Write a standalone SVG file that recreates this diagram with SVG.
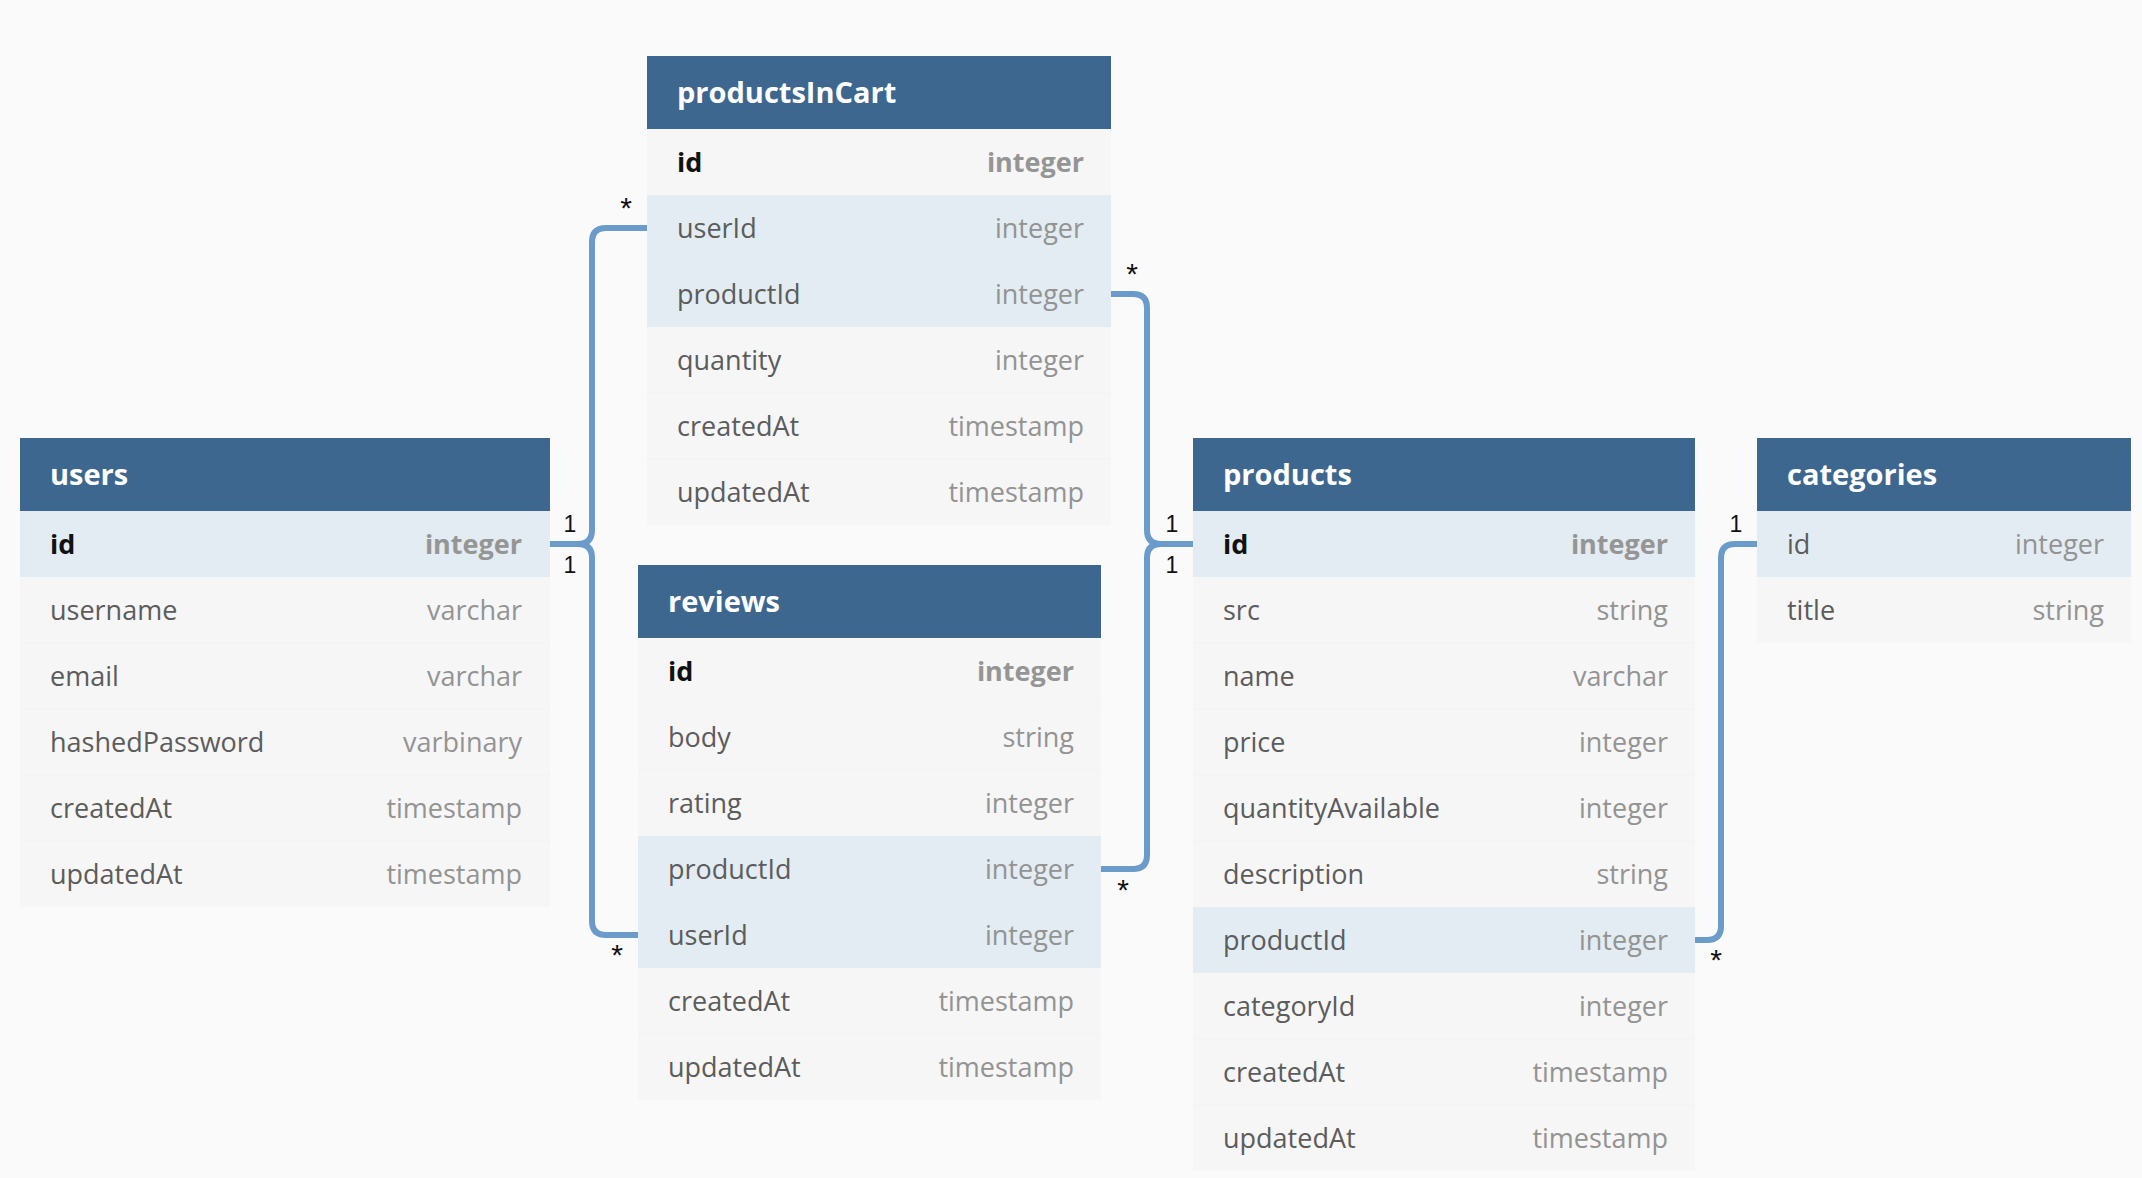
<svg xmlns="http://www.w3.org/2000/svg" width="2142" height="1178" viewBox="0 0 2142 1178">
<style>
.hdr{fill:#3E678F}
.row{fill:#F6F6F6}
.hl{fill:#E2ECF2}
.sep{stroke:#F2F2F2;stroke-width:1}
.title{font-family:"Open Sans","Liberation Sans",sans-serif;font-weight:700;font-size:29px;fill:#FFFFFF}
.name{font-family:"Open Sans","Liberation Sans",sans-serif;font-size:27px;fill:#5C5C5C}
.type{font-family:"Open Sans","Liberation Sans",sans-serif;font-size:27px;fill:#939393;text-anchor:end}
.pk{font-weight:700;fill:#111111}
.pkt{font-weight:700;fill:#959595}
.conn{fill:none;stroke:#6B9BCB;stroke-width:6}
.lbl{font-family:"Liberation Sans","DejaVu Sans",sans-serif;font-size:23px;fill:#111111;text-anchor:middle}
.ast{font-family:"Liberation Sans","DejaVu Sans",sans-serif;font-size:30px;fill:#111111;text-anchor:middle}
</style>
<rect x="0" y="0" width="2142" height="1178" fill="#FAFAFA"/>

<g id="connectors">
<path class="conn" d="M550,544 H578 Q592,544 592,530 V242 Q592,228 606,228 H647"/>
<path class="conn" d="M550,544 H578 Q592,544 592,558 V921 Q592,935 606,935 H638"/>
<path class="conn" d="M1111,294 H1133 Q1147,294 1147,308 V530 Q1147,544 1161,544 H1193"/>
<path class="conn" d="M1101,869 H1133 Q1147,869 1147,855 V558 Q1147,544 1161,544 H1193"/>
<path class="conn" d="M1695,940 H1707 Q1721,940 1721,926 V558 Q1721,544 1735,544 H1757"/>
<text class="ast" x="626" y="218">*</text>
<text class="lbl" x="570" y="532">1</text>
<text class="lbl" x="570" y="573">1</text>
<text class="ast" x="617" y="965">*</text>
<text class="ast" x="1132" y="284">*</text>
<text class="ast" x="1123" y="900">*</text>
<text class="lbl" x="1172" y="532">1</text>
<text class="lbl" x="1172" y="573">1</text>
<text class="ast" x="1716" y="970">*</text>
<text class="lbl" x="1736" y="532">1</text>
</g>

<g id="productsInCart">
<rect class="hdr" x="647" y="56" width="464" height="73"/>
<text class="title" x="677" y="103">productsInCart</text>
<rect class="row" x="647" y="129" width="464" height="66"/>
<rect class="hl" x="647" y="195" width="464" height="132"/>
<rect class="row" x="647" y="327" width="464" height="198"/>
<line class="sep" x1="647" y1="393" x2="1111" y2="393"/>
<line class="sep" x1="647" y1="459" x2="1111" y2="459"/>
<text class="name pk" x="677" y="172">id</text><text class="type pkt" x="1084" y="172">integer</text>
<text class="name" x="677" y="238">userId</text><text class="type" x="1084" y="238">integer</text>
<text class="name" x="677" y="304">productId</text><text class="type" x="1084" y="304">integer</text>
<text class="name" x="677" y="370">quantity</text><text class="type" x="1084" y="370">integer</text>
<text class="name" x="677" y="436">createdAt</text><text class="type" x="1084" y="436">timestamp</text>
<text class="name" x="677" y="502">updatedAt</text><text class="type" x="1084" y="502">timestamp</text>
</g>

<g id="users">
<rect class="hdr" x="20" y="438" width="530" height="73"/>
<text class="title" x="50" y="485">users</text>
<rect class="hl" x="20" y="511" width="530" height="66"/>
<rect class="row" x="20" y="577" width="530" height="330"/>
<line class="sep" x1="20" y1="643" x2="550" y2="643"/>
<line class="sep" x1="20" y1="709" x2="550" y2="709"/>
<line class="sep" x1="20" y1="775" x2="550" y2="775"/>
<line class="sep" x1="20" y1="841" x2="550" y2="841"/>
<text class="name pk" x="50" y="554">id</text><text class="type pkt" x="522" y="554">integer</text>
<text class="name" x="50" y="620">username</text><text class="type" x="522" y="620">varchar</text>
<text class="name" x="50" y="686">email</text><text class="type" x="522" y="686">varchar</text>
<text class="name" x="50" y="752">hashedPassword</text><text class="type" x="522" y="752">varbinary</text>
<text class="name" x="50" y="818">createdAt</text><text class="type" x="522" y="818">timestamp</text>
<text class="name" x="50" y="884">updatedAt</text><text class="type" x="522" y="884">timestamp</text>
</g>

<g id="reviews">
<rect class="hdr" x="638" y="565" width="463" height="73"/>
<text class="title" x="668" y="612">reviews</text>
<rect class="row" x="638" y="638" width="463" height="198"/>
<rect class="hl" x="638" y="836" width="463" height="132"/>
<rect class="row" x="638" y="968" width="463" height="132"/>
<line class="sep" x1="638" y1="704" x2="1101" y2="704"/>
<line class="sep" x1="638" y1="770" x2="1101" y2="770"/>
<line class="sep" x1="638" y1="1034" x2="1101" y2="1034"/>
<text class="name pk" x="668" y="681">id</text><text class="type pkt" x="1074" y="681">integer</text>
<text class="name" x="668" y="747">body</text><text class="type" x="1074" y="747">string</text>
<text class="name" x="668" y="813">rating</text><text class="type" x="1074" y="813">integer</text>
<text class="name" x="668" y="879">productId</text><text class="type" x="1074" y="879">integer</text>
<text class="name" x="668" y="945">userId</text><text class="type" x="1074" y="945">integer</text>
<text class="name" x="668" y="1011">createdAt</text><text class="type" x="1074" y="1011">timestamp</text>
<text class="name" x="668" y="1077">updatedAt</text><text class="type" x="1074" y="1077">timestamp</text>
</g>

<g id="products">
<rect class="hdr" x="1193" y="438" width="502" height="73"/>
<text class="title" x="1223" y="485">products</text>
<rect class="hl" x="1193" y="511" width="502" height="66"/>
<rect class="row" x="1193" y="577" width="502" height="330"/>
<rect class="hl" x="1193" y="907" width="502" height="66"/>
<rect class="row" x="1193" y="973" width="502" height="198"/>
<line class="sep" x1="1193" y1="643" x2="1695" y2="643"/>
<line class="sep" x1="1193" y1="709" x2="1695" y2="709"/>
<line class="sep" x1="1193" y1="775" x2="1695" y2="775"/>
<line class="sep" x1="1193" y1="841" x2="1695" y2="841"/>
<line class="sep" x1="1193" y1="1039" x2="1695" y2="1039"/>
<line class="sep" x1="1193" y1="1105" x2="1695" y2="1105"/>
<text class="name pk" x="1223" y="554">id</text><text class="type pkt" x="1668" y="554">integer</text>
<text class="name" x="1223" y="620">src</text><text class="type" x="1668" y="620">string</text>
<text class="name" x="1223" y="686">name</text><text class="type" x="1668" y="686">varchar</text>
<text class="name" x="1223" y="752">price</text><text class="type" x="1668" y="752">integer</text>
<text class="name" x="1223" y="818">quantityAvailable</text><text class="type" x="1668" y="818">integer</text>
<text class="name" x="1223" y="884">description</text><text class="type" x="1668" y="884">string</text>
<text class="name" x="1223" y="950">productId</text><text class="type" x="1668" y="950">integer</text>
<text class="name" x="1223" y="1016">categoryId</text><text class="type" x="1668" y="1016">integer</text>
<text class="name" x="1223" y="1082">createdAt</text><text class="type" x="1668" y="1082">timestamp</text>
<text class="name" x="1223" y="1148">updatedAt</text><text class="type" x="1668" y="1148">timestamp</text>
</g>

<g id="categories">
<rect class="hdr" x="1757" y="438" width="374" height="73"/>
<text class="title" x="1787" y="485">categories</text>
<rect class="hl" x="1757" y="511" width="374" height="66"/>
<rect class="row" x="1757" y="577" width="374" height="66"/>
<text class="name" x="1787" y="554">id</text><text class="type" x="2104" y="554">integer</text>
<text class="name" x="1787" y="620">title</text><text class="type" x="2104" y="620">string</text>
</g>
</svg>
